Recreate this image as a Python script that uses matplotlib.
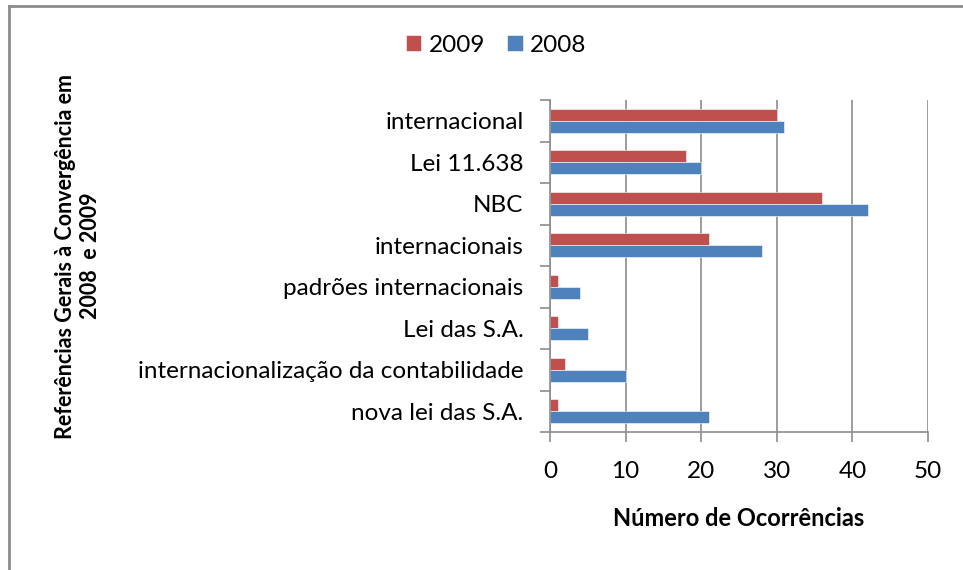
import numpy as np
import matplotlib
matplotlib.use("Agg")
from matplotlib import pyplot as plt
from matplotlib.lines import Line2D

plt.rcParams['font.family'] = ['Lato', 'DejaVu Sans']

# data, top category first
categories = ['internacional', 'Lei 11.638', 'NBC', 'internacionais',
              'padrões internacionais', 'Lei das S.A.',
              'internacionalização da contabilidade', 'nova lei das S.A.']
vals_2009 = [30, 18, 36, 21, 1, 1, 2, 1]
vals_2008 = [31, 20, 42, 28, 4, 5, 10, 21]
x_ticks = [0, 10, 20, 30, 40, 50]

red = '#C0504D'
blue = '#4F81BD'
grey = '#8C8C8C'

fig = plt.figure(figsize=(9.63, 5.70), dpi=100)
ax = fig.add_axes([550/963, 138/570, 378/963, 332/570])

n = len(categories)
pos = np.arange(n)[::-1]  # first category on top
h = 0.29
ax.barh(pos + h/2, vals_2009, height=h, color=red, label='2009',
        edgecolor='white', linewidth=0.4)
ax.barh(pos - h/2, vals_2008, height=h, color=blue, label='2008',
        edgecolor='white', linewidth=0.4)

ax.set_xlim(0, 50)
ax.set_ylim(-0.5, n - 0.5)
ax.set_xticks(x_ticks)
ax.tick_params(axis='x', length=7, width=1.2, color=grey, pad=14, labelsize=17.5)

# tick marks at category boundaries, labels at the centres
ax.set_yticks(np.arange(n + 1) - 0.5)
ax.set_yticklabels([])
ax.set_yticks(pos, minor=True)
ax.set_yticklabels(categories, minor=True)
ax.tick_params(axis='y', which='major', length=7, width=1.2, color=grey)
ax.tick_params(axis='y', which='minor', length=0, pad=19, labelsize=17.5)

ax.xaxis.grid(True, color=grey, linewidth=1.2)
ax.set_axisbelow(True)
for s in ['top', 'right']:
    ax.spines[s].set_visible(False)
for s in ['left', 'bottom']:
    ax.spines[s].set_color(grey)
    ax.spines[s].set_linewidth(1.2)

ax.set_xlabel('Número de Ocorrências', fontsize=17, fontweight='bold', labelpad=18)
fig.text(78/963, 1 - 256/570, 'Referências Gerais à Convergência em\n2008  e 2009',
         rotation=90, ha='center', va='center', fontsize=15.5, fontweight='bold',
         linespacing=1.2)

handles, labels = ax.get_legend_handles_labels()
fig.legend(handles, labels, loc='center', bbox_to_anchor=(496/963, 1 - 45/570),
           ncol=2, frameon=False, fontsize=17.5, handlelength=0.65, handleheight=0.65,
           handletextpad=0.3, columnspacing=0.9)

# outer frame (right and bottom edges fall outside the picture)
fig.add_artist(Line2D([9/963, 9/963], [0, 1 - 6/570], transform=fig.transFigure,
                      color=grey, linewidth=2))
fig.add_artist(Line2D([9/963, 1], [1 - 6/570, 1 - 6/570], transform=fig.transFigure,
                      color=grey, linewidth=2))

fig.savefig('out.png', dpi=100)
